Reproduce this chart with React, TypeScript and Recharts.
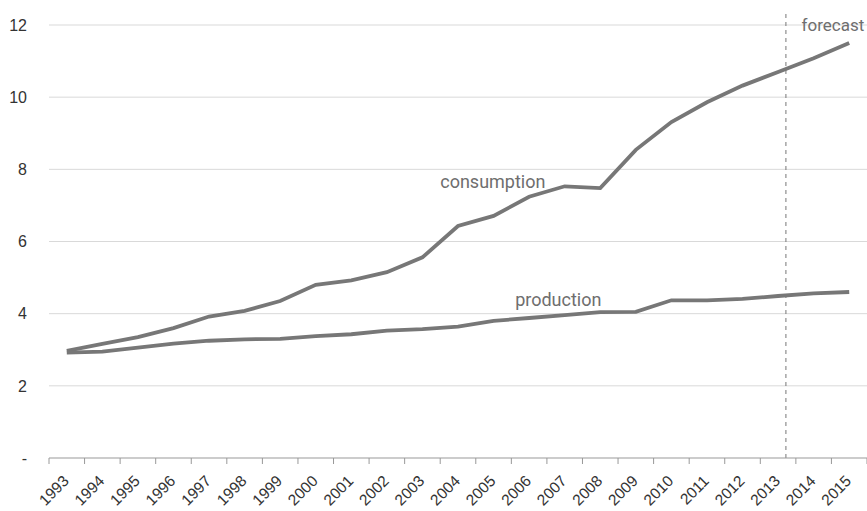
import React from 'react';
import { LineChart, Line, XAxis, YAxis, CartesianGrid, ReferenceLine, ReferenceDot } from 'recharts';

const years = [1993,1994,1995,1996,1997,1998,1999,2000,2001,2002,2003,2004,2005,2006,2007,2008,2009,2010,2011,2012,2013,2014,2015];
const consumption = [2.97,3.16,3.35,3.6,3.92,4.08,4.35,4.8,4.92,5.15,5.56,6.43,6.71,7.24,7.53,7.48,8.54,9.31,9.86,10.32,10.7,11.08,11.5];
const production = [2.92,2.95,3.06,3.17,3.25,3.29,3.3,3.38,3.43,3.53,3.57,3.64,3.8,3.88,3.96,4.04,4.05,4.37,4.37,4.41,4.49,4.56,4.6];
const yTicks = [0,2,4,6,8,10,12];
const forecastStart = 2013.22;

const data = years.map((y, i) => ({ year: y, consumption: consumption[i], production: production[i] }));
const xTicks: number[] = [];
years.forEach((y) => { xTicks.push(y - 0.5); xTicks.push(y); });
xTicks.push(years[years.length - 1] + 0.5);

const FONT = '"Liberation Sans", Arial, sans-serif';
const LABEL_FONT = 'Roboto, "Liberation Sans", Arial, sans-serif';
const AXIS_Y = 458;

const XTick = (props: any) => {
  const { x, payload } = props;
  const v = payload.value;
  if (Number.isInteger(v)) {
    const ax = x + 3;
    const ay = AXIS_Y + 24;
    return (
      <text x={ax} y={ay} transform={`rotate(-45 ${ax} ${ay})`} textAnchor="end" fontSize={15.5} fontFamily={FONT} fill="#333">
        {v}
      </text>
    );
  }
  return <line x1={x} x2={x} y1={AXIS_Y} y2={AXIS_Y + 6} stroke="#999" strokeWidth={1} />;
};

const TextLabel = (text: string, anchor: string, size: number) => (props: any) => {
  const { viewBox } = props;
  const cx = viewBox.x + (viewBox.width || 0) / 2;
  const cy = viewBox.y + (viewBox.height || 0) / 2;
  return (
    <text x={cx} y={cy} textAnchor={anchor} fontSize={size} fontFamily={LABEL_FONT} fill="#6e6e6e">{text}</text>
  );
};

export default function App() {
  return (
    <div style={{ position: 'absolute', left: 0, top: 0, background: '#fff' }}>
      <LineChart width={867} height={511} data={data} margin={{ top: 25, right: 0, bottom: 0, left: 0 }}>
        <CartesianGrid vertical={false} stroke="#d9d9d9" horizontalValues={[2,4,6,8,10,12]} />
        <XAxis
          dataKey="year"
          type="number"
          domain={[1992.5, 2015.5]}
          ticks={xTicks}
          interval={0}
          height={53}
          tickSize={0}
          tickMargin={0}
          tickLine={false}
          axisLine={{ stroke: '#999' }}
          tick={<XTick />}
        />
        <YAxis
          domain={[0, 12]}
          ticks={yTicks}
          width={49}
          axisLine={false}
          tickLine={false}
          tickMargin={16}
          tickFormatter={(v: number) => (v === 0 ? '-' : String(v))}
          tick={{ fontSize: 16, fontFamily: FONT, fill: '#333' }}
        />
        <ReferenceLine
          segment={[{ x: forecastStart, y: 0 }, { x: forecastStart, y: 12.36 }]}
          stroke="#777"
          strokeDasharray="4 4"
          ifOverflow="visible"
        />
        <Line type="linear" dataKey="consumption" stroke="#777" strokeWidth={3.8} dot={false} isAnimationActive={false} />
        <Line type="linear" dataKey="production" stroke="#777" strokeWidth={3.8} dot={false} isAnimationActive={false} />
        <ReferenceDot x={2004.98} y={7.49} r={0} ifOverflow="visible" label={TextLabel('consumption', 'middle', 18)} />
        <ReferenceDot x={2006.82} y={4.22} r={0} ifOverflow="visible" label={TextLabel('production', 'middle', 18)} />
        <ReferenceDot x={2013.66} y={11.84} r={0} ifOverflow="visible" label={TextLabel('forecast', 'start', 17)} />
      </LineChart>
    </div>
  );
}
